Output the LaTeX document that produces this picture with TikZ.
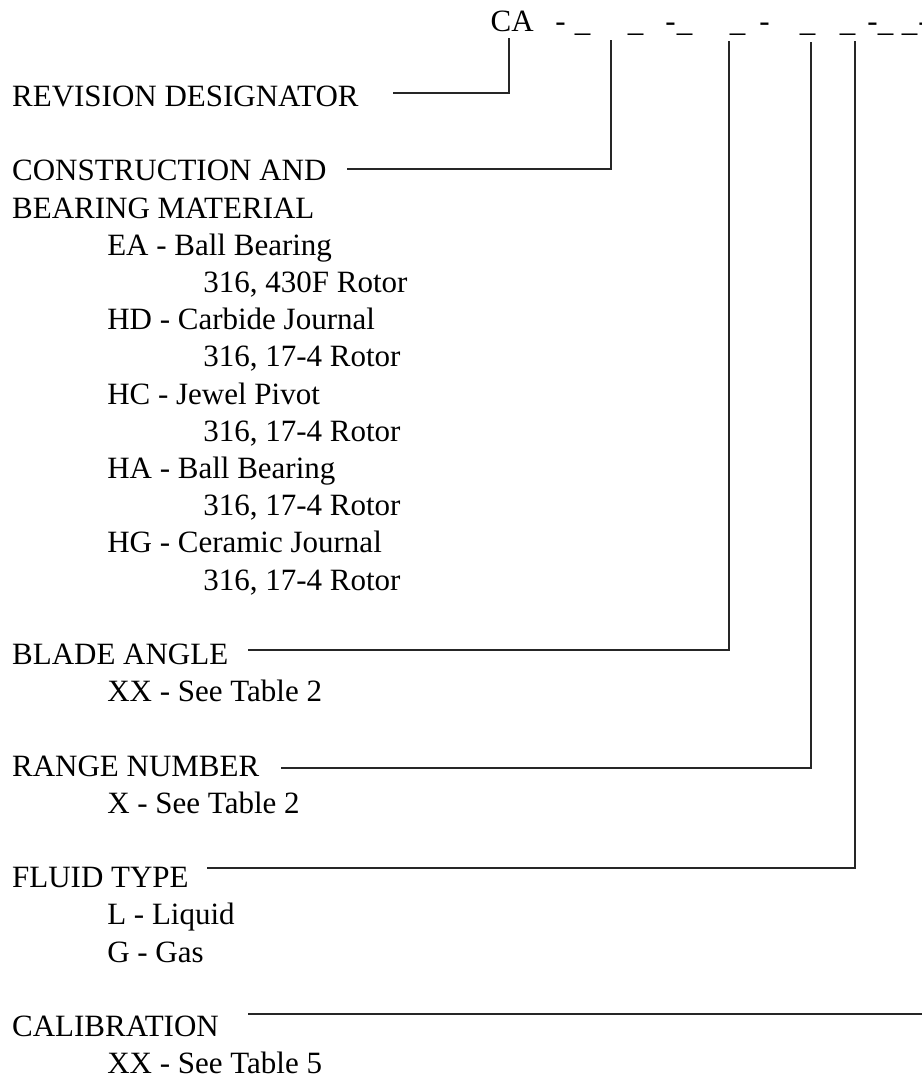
\documentclass[tikz,border=0pt]{standalone}
\usepackage{fontspec}
\setmainfont{Liberation Serif}
\begin{document}
\begin{tikzpicture}[x=1pt, y=-1pt, line width=1.3pt,
  every node/.style={font=\fontsize{31}{37.2}\selectfont, inner sep=0pt},
  lbl/.style={anchor=base west},
  code/.style={anchor=base},
  conn/.style={draw=black!85}]
  \useasboundingbox (0,0) rectangle (921,1081);
  % part number
  \node[lbl] (ca) at (490,32) {CA};
  \foreach \x [count=\i] in {560.5,670.5,764.5,872.5,923.5}
    \node[code] (h\i) at (\x,32) {-};
  \foreach \x [count=\i] in {582.5,635.5,684.5,737.5,807.5,847.5,885.5,909.5}
    \node[code] (u\i) at (\x,32) {\_};
  \coordinate (p1) at (509,38);
  \coordinate (p2) at (611,40);
  \coordinate (p3) at (729,41);
  \coordinate (p4) at (811,42);
  \coordinate (p5) at (855,41);
  % fields
  \node[lbl] (rev)   at (11.5,106.4) {REVISION DESIGNATOR};
  \node[lbl] (cons)  at (11.5,180.8) {CONSTRUCTION AND};
  \node[lbl] (bear)  at (11.5,218)   {BEARING MATERIAL};
  \node[lbl] (ea)    at (106.6,255.2) {EA - Ball Bearing};
  \node[lbl] (ear)   at (202.7,292.4) {316, 430F Rotor};
  \node[lbl] (hd)    at (106.6,329.6) {HD - Carbide Journal};
  \node[lbl] (hdr)   at (202.7,366.8) {316, 17-4 Rotor};
  \node[lbl] (hc)    at (106.6,404)   {HC - Jewel Pivot};
  \node[lbl] (hcr)   at (202.7,441.2) {316, 17-4 Rotor};
  \node[lbl] (ha)    at (106.6,478.4) {HA - Ball Bearing};
  \node[lbl] (har)   at (202.7,515.6) {316, 17-4 Rotor};
  \node[lbl] (hg)    at (106.6,552.8) {HG - Ceramic Journal};
  \node[lbl] (hgr)   at (202.7,590)   {316, 17-4 Rotor};
  \node[lbl] (blade) at (11.5,664.4)  {BLADE ANGLE};
  \node[lbl] (bladex) at (106.6,701.6) {XX - See Table 2};
  \node[lbl] (range) at (11.5,776)    {RANGE NUMBER};
  \node[lbl] (rangex) at (106.6,813.2) {X - See Table 2};
  \node[lbl] (fluid) at (11.5,887.6)  {FLUID TYPE};
  \node[lbl] (fl)    at (106.6,924.8) {L - Liquid};
  \node[lbl] (fg)    at (106.6,962)   {G - Gas};
  \node[lbl] (calib) at (11.5,1036.4) {CALIBRATION};
  \node[lbl] (calibx) at (106.6,1073.6) {XX - See Table 5};
  % leader lines
  \coordinate (c1) at (393,93);
  \coordinate (c2) at (347,169);
  \coordinate (c3) at (248,650);
  \coordinate (c4) at (281,768);
  \coordinate (c5) at (207,868);
  \coordinate (c6) at (248,1014);
  \coordinate (e6) at (930,1014);
  \draw[conn] (c1) -| (p1);
  \draw[conn] (c2) -| (p2);
  \draw[conn] (c3) -| (p3);
  \draw[conn] (c4) -| (p4);
  \draw[conn] (c5) -| (p5);
  \draw[conn] (c6) -- (e6);
\end{tikzpicture}
\end{document}
